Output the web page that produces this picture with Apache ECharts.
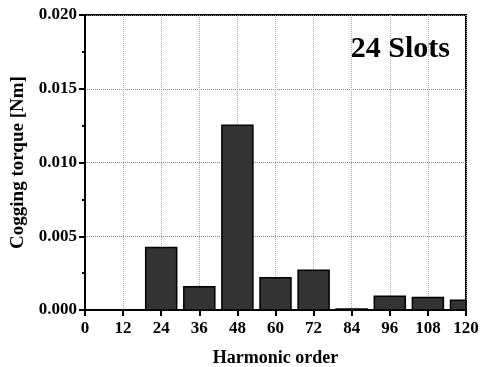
<!DOCTYPE html>
<html>
<head>
<meta charset="utf-8">
<script src="https://cdn.jsdelivr.net/npm/echarts@6/dist/echarts.min.js"></script>
<style>
  html, body { margin: 0; padding: 0; background: #fff; }
  #main { width: 483px; height: 367px; }
</style>
</head>
<body>
<div id="main"></div>
<script>
// harmonic order vs cogging torque amplitude
var harmonics = [12, 24, 36, 48, 60, 72, 84, 96, 108, 120];
var torque = [0.00001, 0.00423, 0.00158, 0.01252, 0.00219, 0.0027, 0.00007, 0.00093, 0.00084, 0.00066];
var xTicks = [0, 12, 24, 36, 48, 60, 72, 84, 96, 108, 120];
var yTicks = [0, 0.005, 0.01, 0.015, 0.02];

var font = '"Liberation Serif", "Times New Roman", serif';

var chart = echarts.init(document.getElementById('main'));

var barData = [];
for (var i = 0; i < harmonics.length; i++) {
    barData.push([harmonics[i], torque[i]]);
}

// bars drawn by hand so the last one gets cut at the frame
function renderBar(params, api) {
    var x = api.value(0), y = api.value(1);
    var p0 = api.coord([x, 0]);
    var p1 = api.coord([x, y]);
    var w = 31;
    var rect = { x: p0[0] - w / 2, y: p1[1], width: w, height: p0[1] - p1[1] };
    var cs = params.coordSys;
    var shape = echarts.graphic.clipRectByRect(rect, { x: cs.x, y: cs.y, width: cs.width, height: cs.height });
    if (!shape) return;
    return {
        type: 'rect',
        shape: shape,
        style: { fill: '#333333', stroke: '#000', lineWidth: 1.5 }
    };
}

var option = {
    animation: false,
    title: {
        text: '24 Slots',
        right: 28,
        top: 29,
        textStyle: { fontFamily: font, fontWeight: 'bold', fontSize: 30, color: '#000' }
    },
    grid: {
        left: 85, right: 17, top: 15, bottom: 57,
        outerBoundsMode: 'none',
        show: true, borderColor: '#000', borderWidth: 2
    },
    xAxis: {
        type: 'value',
        min: xTicks[0], max: xTicks[xTicks.length - 1], interval: 12,
        name: 'Harmonic order',
        nameLocation: 'middle',
        nameGap: 39,
        nameTextStyle: { fontFamily: font, fontWeight: 'bold', fontSize: 18, color: '#000' },
        axisLine: { lineStyle: { color: '#000', width: 2 } },
        axisTick: { show: true, inside: false, length: 6, lineStyle: { color: '#000', width: 2 } },
        axisLabel: { fontFamily: font, fontWeight: 'bold', fontSize: 17, color: '#000', margin: 10 },
        splitLine: { show: true, lineStyle: { color: '#aaa', type: 'dotted', width: 1 } }
    },
    yAxis: {
        type: 'value',
        min: yTicks[0], max: yTicks[yTicks.length - 1], interval: 0.005,
        name: 'Cogging torque [Nm]',
        nameLocation: 'middle',
        nameGap: 49,
        nameTextStyle: { fontFamily: font, fontWeight: 'bold', fontSize: 19, color: '#000' },
        axisLine: { show: true, lineStyle: { color: '#000', width: 2 } },
        axisTick: { show: true, inside: false, length: 6, lineStyle: { color: '#000', width: 2 } },
        minorTick: { show: true, splitNumber: 2, length: 3, lineStyle: { color: '#000', width: 2 } },
        axisLabel: {
            fontFamily: font, fontWeight: 'bold', fontSize: 17, color: '#000', margin: 8,
            formatter: function (v) { return v.toFixed(3); }
        },
        splitLine: { show: true, lineStyle: { color: '#888', type: 'dotted', width: 1 } }
    },
    series: [{
        type: 'custom',
        data: barData,
        renderItem: renderBar,
        encode: { x: 0, y: 1 }
    }]
};

chart.setOption(option);
</script>
</body>
</html>
